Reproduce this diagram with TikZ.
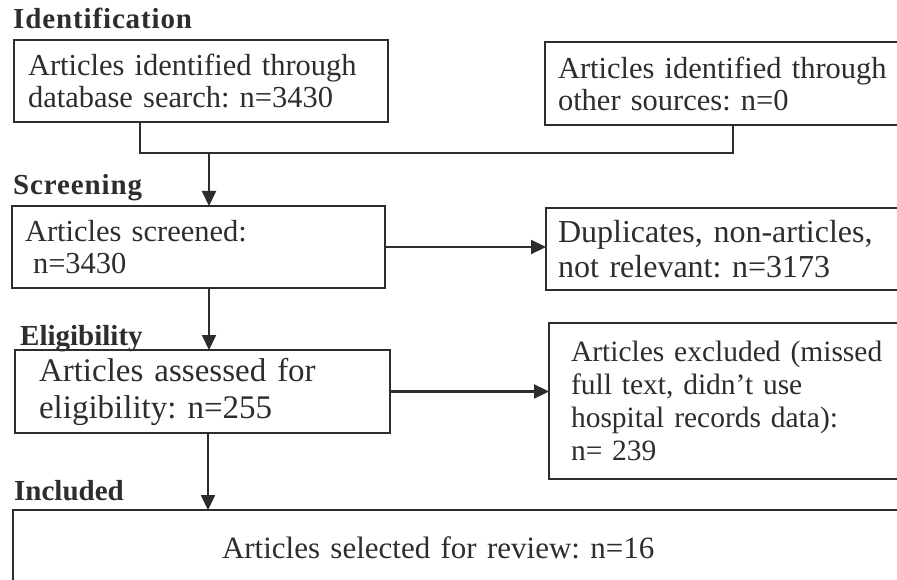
\documentclass[tikz,border=0pt]{standalone}
\usepackage{fontspec}
\setmainfont{Liberation Serif}
\usetikzlibrary{arrows.meta,calc}
\definecolor{ink}{RGB}{45,45,45}
\frenchspacing
\begin{document}
\frenchspacing
\begin{tikzpicture}[x=1pt,y=-1pt,
 box/.style={draw=ink,line width=2.2pt,outer sep=0pt,anchor=north west,align=left,text=ink,inner ysep=0pt},
 head/.style={anchor=base west,inner sep=0pt,text=ink,font=\fontsize{29}{30}\selectfont\bfseries},
 arr/.style={draw=ink,line width=2.2pt,-{Triangle[length=15pt,width=14pt]}},
 conn/.style={draw=ink,line width=2.2pt}]
\useasboundingbox (0,0) rectangle (897,580);
\clip (0,0) rectangle (897,580);
% boxes
\node[box,text width=346pt,inner xsep=14pt,minimum height=82pt,font=\fontsize{30.5}{32}\selectfont] (b1) at (14,40) {Articles identified through\\database search: n=3430};
\node[box,text width=349pt,inner xsep=13pt,minimum height=83pt,font=\fontsize{30.5}{32}\selectfont] (b2) at (545,42) {Articles identified through\\other sources: n=0};
\node[box,text width=347pt,inner xsep=13pt,minimum height=82pt,font=\fontsize{30.5}{32}\selectfont] (b3) at (12,206) {Articles screened:\\\hspace*{8pt}n=3430};
\node[box,text width=360pt,inner xsep=12pt,minimum height=82pt,font=\fontsize{32}{35}\selectfont] (b4) at (546,208) {Duplicates, non-articles,\\not relevant: n=3173};
\node[box,text width=327pt,inner xsep=24pt,minimum height=83pt,font=\fontsize{33}{37}\selectfont] (b5) at (15,350) {Articles assessed for\\eligibility: n=255};
\node[box,text width=340pt,inner xsep=22pt,minimum height=156pt,font=\fontsize{29.5}{33}\selectfont] (b6) at (549,323) {Articles excluded (missed\\full text, didn’t use\\hospital records data):\\n= 239};
\node[box,text width=482pt,inner xsep=209pt,minimum height=75pt,font=\fontsize{31}{33}\selectfont] (b7) at (13,510) {Articles selected for review: n=16};
% headings
\node[head] (hid) at (13,29) {\addfontfeature{LetterSpace=3}Identification};
\node[head] (hsc) at (13,195) {\addfontfeature{LetterSpace=3}Screening};
\node[head] (hel) at (20,345) {Eligibility};
\node[head] (hin) at (14,500) {Included};
% connectors
\coordinate (j) at (209,153);
\coordinate (l1) at (140,0);
\coordinate (l2) at (733,0);
\coordinate (k) at (208,0);
\draw[conn] (b1.south -| l1) |- (j) -| (b2.south -| l2);
\draw[arr] (j) -- (j |- b3.north);
\draw[arr] (b3.east) -- (b3.east -| b4.west);
\draw[arr] (b3.south -| j) -- (b5.north -| j);
\draw[arr] (b5.east) -- (b5.east -| b6.west);
\draw[arr] (b5.south -| k) -- (b7.north -| k);
\end{tikzpicture}
\end{document}
